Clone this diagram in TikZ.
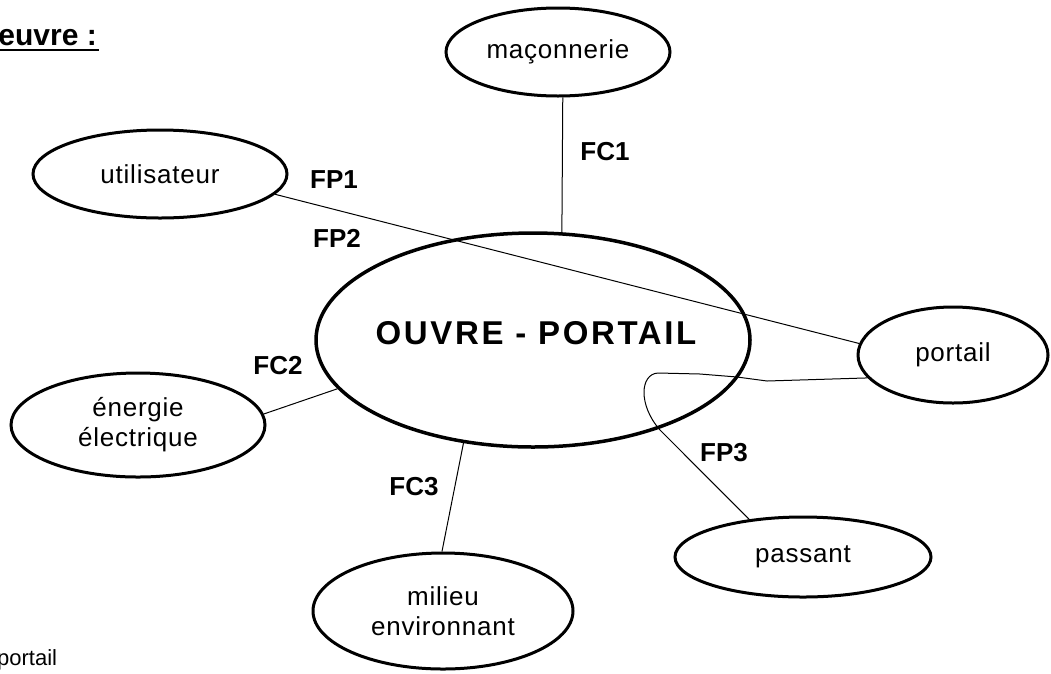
\documentclass[tikz,border=0pt]{standalone}
\usepackage{fontspec}
\setmainfont{Liberation Sans}
\newfontfamily\lblfont[LetterSpace=3]{Liberation Sans}
\newfontfamily\titlefont[LetterSpace=8]{Liberation Sans}
\usetikzlibrary{shapes.geometric}
\begin{document}
\begin{tikzpicture}[x=1pt,y=-1pt,
  bubble/.style={draw, ellipse, line width=3pt, inner sep=0pt, align=center,
    font=\lblfont\fontsize{26}{30}\selectfont},
  fclabel/.style={inner sep=0pt, font=\bfseries\fontsize{26}{30}\selectfont},
  wire/.style={line width=1pt}]
\useasboundingbox (0,0) rectangle (1051,673);
\fill[white] (0,0) rectangle (1051,673);
% central
\node[draw, ellipse, line width=3.5pt, minimum width=434, minimum height=214, inner sep=0pt] (main) at (533,340) {};
\node[inner sep=0pt, font=\titlefont\bfseries\fontsize{33}{36}\selectfont] (title) at (536,333) {OUVRE - PORTAIL};
% outer bubbles
\node[bubble, minimum width=224, minimum height=88] (mac) at (558,52) {maçonnerie};
\node[bubble, minimum width=254, minimum height=88] (util) at (160,174) {utilisateur};
\node[bubble, minimum width=190, minimum height=96] (port) at (953,355) {portail};
\node[bubble, minimum width=254, minimum height=104] (ener) at (138,425) {énergie\\électrique};
\node[bubble, minimum width=260, minimum height=116] (mil) at (443,611) {milieu\\environnant};
\node[bubble, minimum width=256, minimum height=80] (pass) at (803,557) {passant};
% connectors
\draw[wire] (mac.-84) -- (main.75);
\draw[wire] (util.-10) -- (port.173);
\draw[wire] (ener.5) -- (main.194.5);
\draw[wire] (main.236) -- (mil.91);
\draw[wire] (port.195) -- (767,381) -- (737,377) -- (700,374) -- (658,373)
  .. controls (640,374) and (638,405) .. (660,430) -- (pass.145);
% labels
\node[fclabel] (fc1) at (605,152) {FC1};
\node[fclabel] (fp1) at (334,180) {FP1};
\node[fclabel] (fp2) at (337,238) {FP2};
\node[fclabel] (fc2) at (278,366) {FC2};
\node[fclabel] (fc3) at (414,487) {FC3};
\node[fclabel] (fp3) at (724,453) {FP3};
% cut-off texts at the edges
\node[anchor=base east, inner sep=0pt, font=\bfseries\fontsize{30}{32}\selectfont] (head) at (97,45) {euvre :};
\draw[line width=2.5pt] ([yshift=-5pt]head.base west) -- ([yshift=-5pt,xshift=2pt]head.base east);
\node[anchor=base west, inner sep=0pt, font=\fontsize{22}{26}\selectfont] (foot) at (-3,665) {portail};
\end{tikzpicture}
\end{document}
